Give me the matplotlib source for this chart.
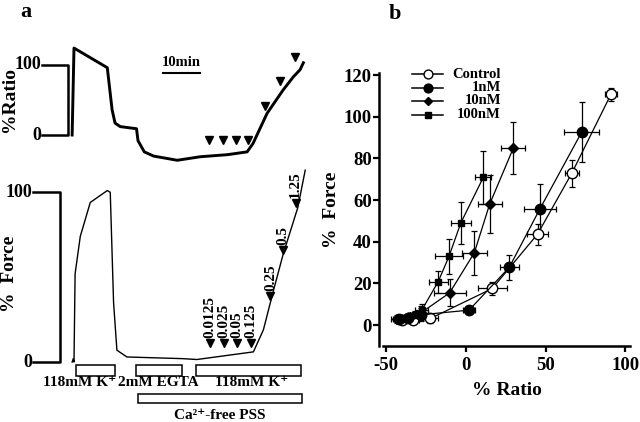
import matplotlib
matplotlib.use('Agg')
import matplotlib.pyplot as plt
from matplotlib.patches import Rectangle

plt.rcParams['font.family'] = ['Liberation Serif', 'DejaVu Serif']
plt.rcParams['font.weight'] = 'bold'
plt.rcParams['axes.labelweight'] = 'bold'
plt.rcParams['axes.unicode_minus'] = False

# ---- panel a: traces (time in min) ----
ratio_t = [0, 0.5, 9.5, 10.8, 11.6, 13, 17.4, 17.8, 19.5, 22, 28.4, 34.6, 42, 47.3, 48.9, 52.7, 57, 59.8, 61.6, 62.5]
ratio_v = [0, 124, 96, 36, 17, 12, 9, -8, -24, -30, -36, -31, -28, -24, -12, 31, 64, 83, 93, 103]

force_t = [0, 0.3, 0.5, 0.8, 2.2, 4.9, 9.5, 10.3, 11.2, 12.1, 14.8, 30, 33.7, 49, 51.7, 54.4, 57.1, 61, 63]
force_v = [0, 2, 0, 52, 74, 94, 101, 100, 35, 7, 3, 2, 1.5, 6, 19, 42, 64, 91, 113]

ratio_marks_t = [37, 40.8, 44.3, 47.6, 52.2, 56.2, 60.3]
ratio_marks_v = [-7, -7, -7, -7, 41, 77, 111]

dose_labels = ['0.0125', '0.025', '0.05', '0.125', '0.25', '0.5', '1.25']
dose_t = [37.3, 41.1, 44.6, 48.4, 53.6, 56.9, 60.4]
dose_f = [12.5, 12.5, 12.5, 12.5, 40.6, 67.6, 95]

bars = [(1.1, 11.6, '118mM K⁺', 1.9), (17.3, 29.7, '2mM EGTA', 23.2), (33.5, 61.9, '118mM K⁺', 48.4)]
pss_bar = (17.8, 62.2, 'Ca²⁺-free PSS', 40)

# ---- panel b: force vs ratio ----
ctrl_x = [91, 66.4, 45, 16.6, -22.3, -33.4, -40]
ctrl_y = [110.7, 72.8, 43.7, 17.6, 3.2, 2.7, 2.4]
ctrl_xe = [4, 4.5, 6.6, 9, 5, 4, 4]
ctrl_ye = [3, 6.4, 5, 3, 2, 2, 2]

n1_x = [72.8, 46.4, 27.2, 2, -28, -36, -42]
n1_y = [92.8, 55.7, 27.7, 7.2, 5, 3.5, 3]
n1_xe = [11, 10, 6, 4, 4, 4, 4]
n1_ye = [14.4, 11.8, 6, 2, 3, 2, 2]

n10_x = [29.8, 14.9, 5.3, -10.2, -28, -35, -43]
n10_y = [85, 58, 34.7, 15.5, 6, 4, 3]
n10_xe = [7.5, 7.5, 8, 10, 4, 4, 4]
n10_ye = [12.5, 14, 10.5, 6.5, 3, 2, 2]

n100_x = [11, -3.2, -10.6, -17.4, -27.7, -32, -40]
n100_y = [71, 49, 33, 20.8, 7.2, 5, 3]
n100_xe = [5, 6.4, 8.5, 6, 4, 4, 4]
n100_ye = [12.8, 10, 8.5, 5.3, 3, 2, 2]

fig = plt.figure(figsize=(6.4, 4.22), dpi=100)
W, H = 640.0, 422.0

# ratio trace axes
axr = fig.add_axes([0, 1 - 175 / H, 330 / W, 155 / H])
axr.set_xlim(-19.5, 69.7)
axr.set_ylim(-57, 164)
axr.axis('off')
axr.plot(ratio_t, ratio_v, color='black', lw=2.1, solid_joinstyle='round')
axr.plot(ratio_marks_t, ratio_marks_v, 'v', color='black', ms=6)
# scale bracket
axr.plot([-8.1, -1.1, -1.1, -8.1], [0, 0, 100, 100], color='black', lw=1.8, clip_on=False)
axr.text(-8.4, 100, '100', ha='right', va='center', fontsize=13)
axr.text(-8.4, 0, '0', ha='right', va='center', fontsize=13)
axr.text(-16.8, 50, '%Ratio', rotation=90, ha='center', va='center', fontsize=14)
# time scale bar
axr.plot([24.6, 34.6], [88, 88], color='black', lw=1.5)
axr.text(29.6, 104, '10min', ha='center', va='center', fontsize=10.5)
axr.text(-12.5, 176, 'a', ha='center', va='center', fontsize=16, clip_on=False)

# force trace axes
axf = fig.add_axes([0, 0, 330 / W, (422 - 160) / H])
axf.set_xlim(-19.5, 69.7)
axf.set_ylim(-35.3, 119)
axf.axis('off')
axf.plot(force_t, force_v, color='black', lw=1.0)
axf.plot([-10.5, -3.2, -3.2, -10.5], [0, 0, 100, 100], color='black', lw=1.8, clip_on=False)
axf.text(-10.8, 100, '100', ha='right', va='center', fontsize=13)
axf.text(-10.8, 0, '0', ha='right', va='center', fontsize=13)
axf.text(-16.8, 52, '%  Force', rotation=90, ha='center', va='center', fontsize=14)
for lab, t, f in zip(dose_labels, dose_t, dose_f):
    axf.plot(t, f - 1.5, 'v', color='black', ms=5.5)
    axf.text(t, f + 1.5, lab, rotation=90, ha='center', va='bottom', fontsize=11)
for t0, t1, lab, tc in bars:
    axf.add_patch(Rectangle((t0, -8.2), t1 - t0, 6.4, fill=False, edgecolor='black', lw=1.1, clip_on=False))
    axf.text(tc, -12.2, lab, ha='center', va='center', fontsize=11)
t0, t1, lab, tc = pss_bar
axf.add_patch(Rectangle((t0, -24.1), t1 - t0, 5.3, fill=False, edgecolor='black', lw=1.1, clip_on=False))
axf.text(tc, -31.2, lab, ha='center', va='center', fontsize=11)

# panel b
axb = fig.add_axes([383 / W, 1 - 346 / H, (630 - 383) / W, (346 - 73) / H])
axb.set_xlim(-52, 103)
axb.set_ylim(-10, 121)
for s in ['top', 'right']:
    axb.spines[s].set_visible(False)
for s in ['left', 'bottom']:
    axb.spines[s].set_linewidth(1.8)
axb.spines['left'].set_position(('outward', 3))
axb.set_xticks([-50, 0, 50, 100])
axb.set_yticks(range(0, 121, 20))
axb.tick_params(width=1.6, length=4, labelsize=13.5, pad=1)
axb.tick_params(axis='x', pad=4)
for lbl in axb.get_xticklabels() + axb.get_yticklabels():
    lbl.set_fontweight('bold')

series = [
    (ctrl_x, ctrl_y, ctrl_xe, ctrl_ye, 'o', 'white', 7.5, 'Control'),
    (n1_x, n1_y, n1_xe, n1_ye, 'o', 'black', 7.5, '1nM'),
    (n10_x, n10_y, n10_xe, n10_ye, 'D', 'black', 5, '10nM'),
    (n100_x, n100_y, n100_xe, n100_ye, 's', 'black', 5, '100nM'),
]
for x, y, xe, ye, m, fc, ms, lab in series:
    axb.errorbar(x, y, xerr=xe, yerr=ye, fmt='-' + m, color='black', mfc=fc, mec='black',
                 ms=ms, lw=0.9, elinewidth=0.9, capsize=2, capthick=0.9)

# legend drawn by hand so the labels can be right-aligned
px2ax = lambda px, py: ((px - 383) / 247.0, (346 - py) / 273.0)
for i, s in enumerate(series):
    yy = 74 + 13.5 * i
    x0, y0 = px2ax(412, yy)
    x1, _ = px2ax(443, yy)
    xm, _ = px2ax(427.5, yy)
    axb.plot([x0, x1], [y0, y0], color='black', lw=1.1, transform=axb.transAxes, clip_on=False)
    axb.plot([xm], [y0], marker=s[4], mfc=s[5], mec='black', color='black', ms=s[6] * 0.85,
             transform=axb.transAxes, clip_on=False)
    xt, _ = px2ax(501, yy)
    axb.text(xt, y0, s[7], ha='right', va='center', fontsize=10.5, transform=axb.transAxes)

axb.set_xlabel('% Ratio', fontsize=14, labelpad=6)
axb.set_ylabel('%  Force', fontsize=14, labelpad=3)
fig.text(395 / W, 1 - 14 / H, 'b', ha='center', va='center', fontsize=16)

fig.savefig('out.png', dpi=100)
